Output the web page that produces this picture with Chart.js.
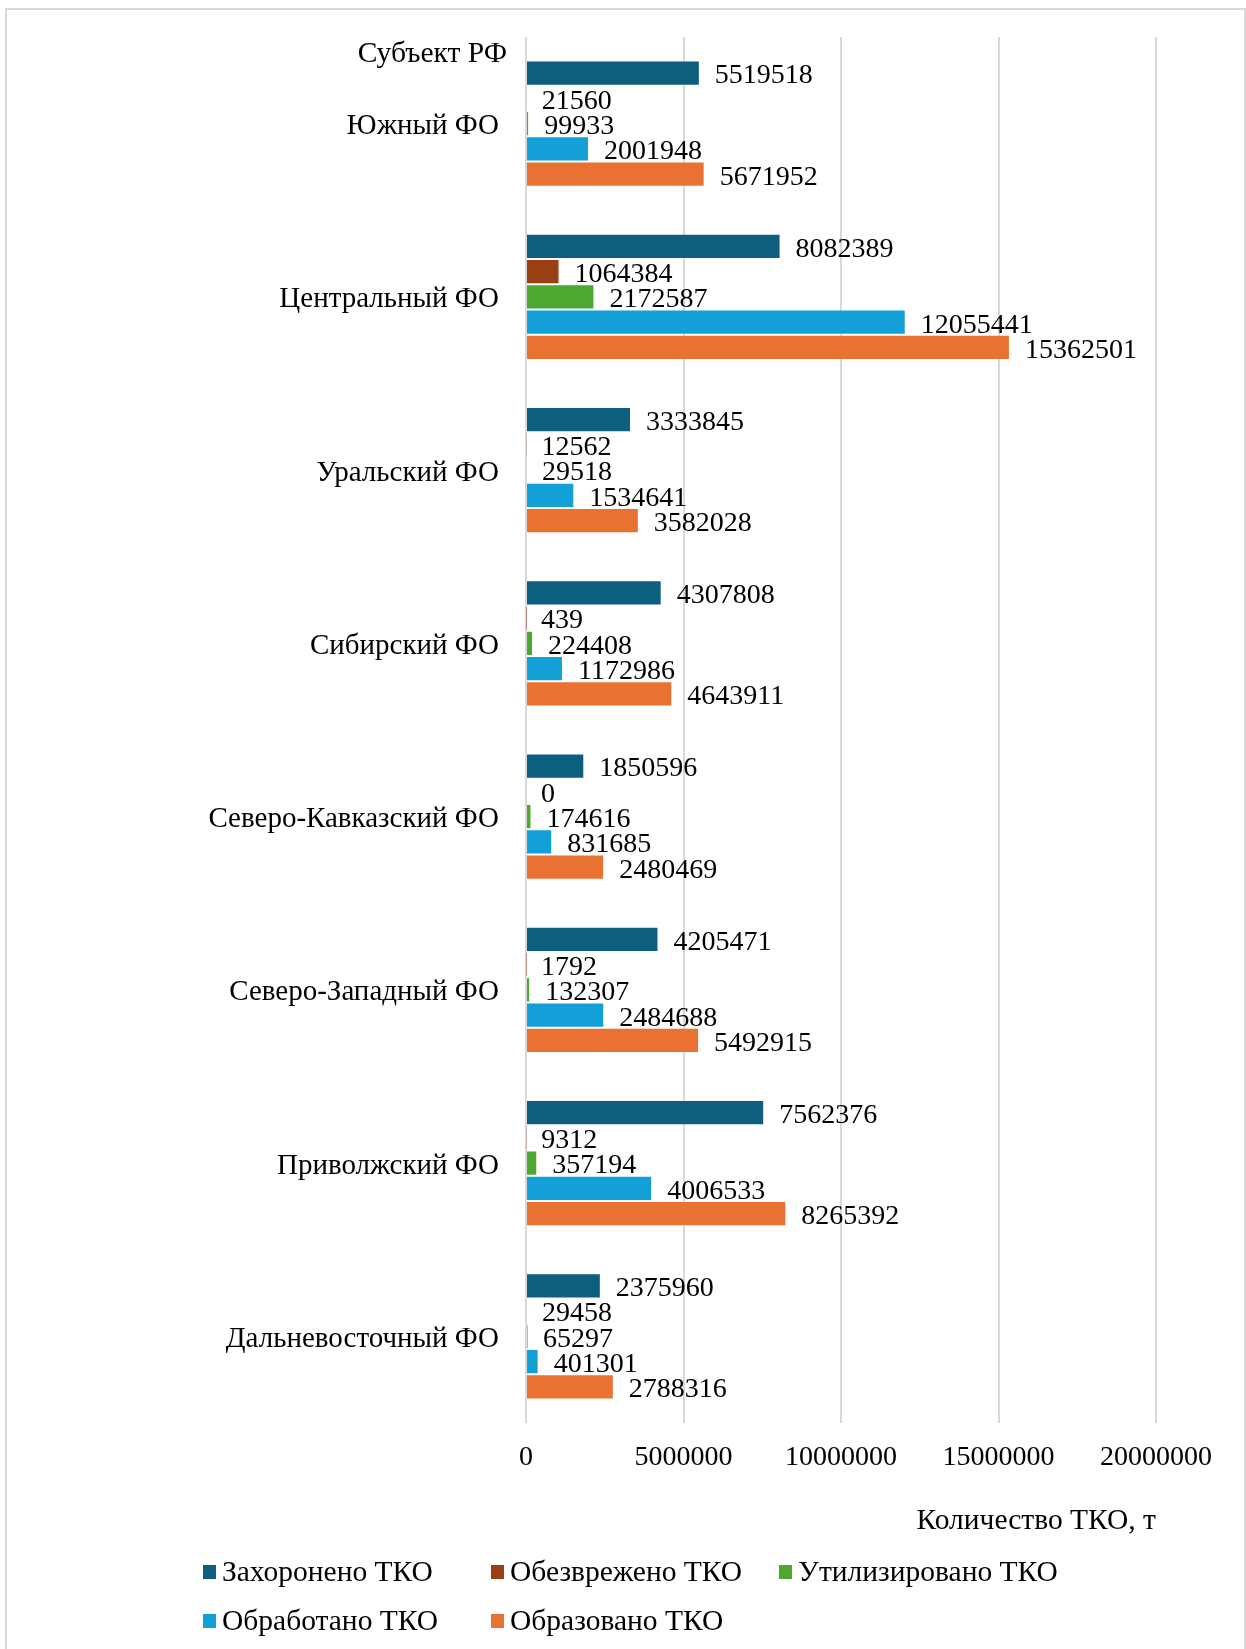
<!DOCTYPE html>
<html>
<head>
<meta charset="utf-8">
<script src="https://cdn.jsdelivr.net/npm/chart.js@4/dist/chart.umd.min.js"></script>
<style>
  body { margin: 0; background: #fff; overflow: hidden; }
  #frame { position: absolute; left: 5px; top: 8px; width: 1237px; height: 1700px; border: 2px solid #d9d9d9; }
  #wrap { position: absolute; left: 0; top: 0; width: 1246px; height: 1649px; }
</style>
</head>
<body>
<div id="frame"></div>
<div id="wrap"><canvas id="myChart" width="1246" height="1649"></canvas></div>
<script>
// regions, top to bottom
var regions = ["Южный ФО", "Центральный ФО", "Уральский ФО", "Сибирский ФО",
               "Северо-Кавказский ФО", "Северо-Западный ФО", "Приволжский ФО", "Дальневосточный ФО"];

var buried    = [5519518, 8082389, 3333845, 4307808, 1850596, 4205471, 7562376, 2375960];
var disarmed  = [21560, 1064384, 12562, 439, 0, 1792, 9312, 29458];
var utilized  = [99933, 2172587, 29518, 224408, 174616, 132307, 357194, 65297];
var processed = [2001948, 12055441, 1534641, 1172986, 831685, 2484688, 4006533, 401301];
var generated = [5671952, 15362501, 3582028, 4643911, 2480469, 5492915, 8265392, 2788316];

var seriesNames = ["Захоронено ТКО", "Обезврежено ТКО", "Утилизировано ТКО", "Обработано ТКО", "Образовано ТКО"];
var xTicks = [0, 5000000, 10000000, 15000000, 20000000];

var colors = ['#0e5f7e', '#983f13', '#4ea72e', '#12a0d7', '#e97132'];
var FONT = "'Liberation Serif', 'Times New Roman', serif";

function ds(i, values) {
    return {
        label: seriesNames[i],
        data: values,
        backgroundColor: colors[i],
        borderColor: 'rgba(255,255,255,0.3)',
        borderWidth: 1,
        categoryPercentage: 0.73,
        barPercentage: 1.0
    };
}

// value labels at bar ends
var valueLabels = {
    id: 'valueLabels',
    afterDatasetsDraw: function (chart) {
        var ctx = chart.ctx;
        ctx.save();
        ctx.font = '28px ' + FONT;
        ctx.fillStyle = '#000';
        ctx.textAlign = 'left';
        ctx.textBaseline = 'middle';
        chart.data.datasets.forEach(function (d, di) {
            chart.getDatasetMeta(di).data.forEach(function (bar, i) {
                ctx.fillText(String(d.data[i]), bar.x + 15, bar.y + 3);
            });
        });
        ctx.restore();
    }
};

// y axis caption at the top + legend in columns
var extras = {
    id: 'extras',
    afterDraw: function (chart) {
        var ctx = chart.ctx, area = chart.chartArea;
        ctx.save();
        ctx.font = '29.5px ' + FONT;
        ctx.fillStyle = '#000';
        ctx.textBaseline = 'middle';
        ctx.textAlign = 'right';
        ctx.fillText('Субъект РФ', area.left - 19, 54);

        ctx.textAlign = 'left';
        var left = 203, colW = 288, rowY = [area.bottom + 149, area.bottom + 198];
        chart.data.datasets.forEach(function (d, i) {
            var x = left + (i % 3) * colW;
            var y = rowY[Math.floor(i / 3)];
            ctx.fillStyle = d.backgroundColor;
            ctx.fillRect(x, y - 7, 13, 14);
            ctx.fillStyle = '#000';
            ctx.fillText(d.label, x + 19, y + 1);
        });
        ctx.restore();
    }
};

var ctx = document.getElementById('myChart');
var myChart = new Chart(ctx, {
    type: 'bar',
    data: {
        labels: regions,
        datasets: [
            ds(0, buried),
            ds(1, disarmed),
            ds(2, utilized),
            ds(3, processed),
            ds(4, generated)
        ]
    },
    options: {
        indexAxis: 'y',
        responsive: false,
        animation: false,
        layout: { padding: { top: 37, right: 90, bottom: 100, left: 0 } },
        plugins: {
            legend: { display: false },
            tooltip: { enabled: false }
        },
        scales: {
            x: {
                min: 0,
                max: 20000000,
                afterBuildTicks: function (scale) {
                    scale.ticks = xTicks.map(function (v) { return { value: v }; });
                },
                afterFit: function (scale) { scale.height = 126; },
                ticks: {
                    color: '#000',
                    font: { family: FONT, size: 28 },
                    padding: 18,
                    maxRotation: 0,
                    callback: function (v) { return String(v); }
                },
                grid: { color: '#d9d9d9', lineWidth: 2, drawTicks: false },
                border: { display: false },
                title: {
                    display: true,
                    text: 'Количество ТКО, т',
                    align: 'end',
                    color: '#000',
                    font: { family: FONT, size: 29.5 },
                    padding: { top: 0, bottom: 10 }
                }
            },
            y: {
                afterFit: function (scale) {
                    scale.width = 526;
                    scale.paddingTop = 0;
                    scale.paddingBottom = 0;
                },
                ticks: {
                    color: '#000',
                    font: { family: FONT, size: 29 },
                    padding: 27,
                    labelOffset: 3
                },
                grid: { display: false, drawTicks: false },
                border: { display: false }
            }
        }
    },
    plugins: [valueLabels, extras]
});
</script>
</body>
</html>
